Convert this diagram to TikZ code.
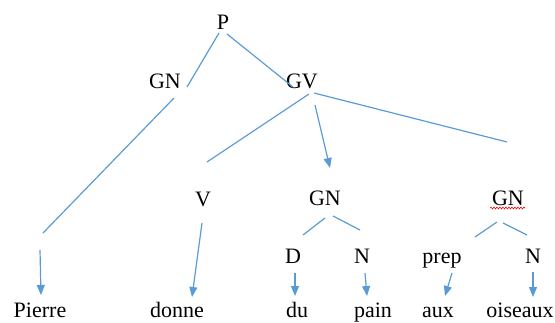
\documentclass[tikz,border=0pt]{standalone}
\usepackage{fontspec}
\setmainfont{Liberation Serif}
\usepackage{xcolor}
\usepackage{tikz}
\usetikzlibrary{arrows.meta,decorations.pathmorphing}
\definecolor{wordblue}{HTML}{5B9BD5}

\begin{document}
\begin{tikzpicture}[
  x=1pt, y=-1pt,
  cat/.style={anchor=base, inner sep=0pt, font=\fontsize{22}{26}\selectfont},
  branch/.style={draw=wordblue, line width=1.2pt},
  arr/.style={branch, -{Triangle[length=10pt,width=8pt]}},
  spell/.style={draw=red, line width=0.6pt, decorate, decoration={snake, amplitude=0.9pt, segment length=3pt}}
]
\useasboundingbox (0,0) rectangle (555,322);
% categories
\node[cat] (P) at (223,29) {P};
\node[cat] (GNa) at (165,88) {GN};
\node[cat] (GV) at (302,88) {GV};
\node[cat] (V) at (203,206) {V};
\node[cat] (GNb) at (325,205) {GN};
\node[cat] (GNc) at (508,205) {GN};
\node[cat] (D) at (293,263) {D};
\node[cat] (Nb) at (362,263) {N};
\node[cat] (prep) at (442,263) {prep};
\node[cat] (Nc) at (533,263) {N};
% words
\node[cat] (pierre) at (40,317) {Pierre};
\node[cat] (donne) at (177,317) {donne};
\node[cat] (du) at (297,317) {du};
\node[cat] (pain) at (373,317) {pain};
\node[cat] (aux) at (438,317) {aux};
\node[cat] (oiseaux) at (520,317) {oiseaux};
% branches
\draw[branch] ([shift={(-4,4)}]P.base) -- ([shift={(22,-1)}]GNa.base);
\draw[branch] ([shift={(4,5)}]P.base) -- ([shift={(-9,-1)}]GV.base);
\draw[branch] ([shift={(9,10)}]GNa.base) -- ([shift={(3,-84)}]pierre.base);
\draw[arr] ([shift={(0,-67)}]pierre.base) -- ([shift={(1,-22)}]pierre.base);
\draw[branch] ([shift={(7,6)}]GV.base) -- ([shift={(4,-44)}]V.base);
\draw[arr] ([shift={(13,17)}]GV.base) -- ([shift={(5,-37)}]GNb.base);
\draw[branch] ([shift={(12,5)}]GV.base) -- ([shift={(-1,-63)}]GNc.base);
\draw[arr] ([shift={(-1,17)}]V.base) -- ([shift={(15,-20)}]donne.base);
\draw[branch] ([shift={(0,13)}]GNb.base) -- ([shift={(-22,30)}]GNb.base);
\draw[branch] ([shift={(8,11)}]GNb.base) -- ([shift={(35,25)}]GNb.base);
\draw[arr] ([shift={(2,10)}]D.base) -- ([shift={(-2,-21)}]du.base);
\draw[arr] ([shift={(3,10)}]Nb.base) -- ([shift={(-6,-21)}]pain.base);
\draw[branch] ([shift={(-11,17)}]GNc.base) -- ([shift={(-33,32)}]GNc.base);
\draw[branch] ([shift={(-5,18)}]GNc.base) -- ([shift={(19,30)}]GNc.base);
\draw[arr] ([shift={(10,10)}]prep.base) -- ([shift={(7,-21)}]aux.base);
\draw[arr] ([shift={(0,9)}]Nc.base) -- ([shift={(13,-20)}]oiseaux.base);
\draw[spell] ([shift={(-18,3)}]GNc.base) -- ([shift={(17,3)}]GNc.base);
\end{tikzpicture}
\end{document}
